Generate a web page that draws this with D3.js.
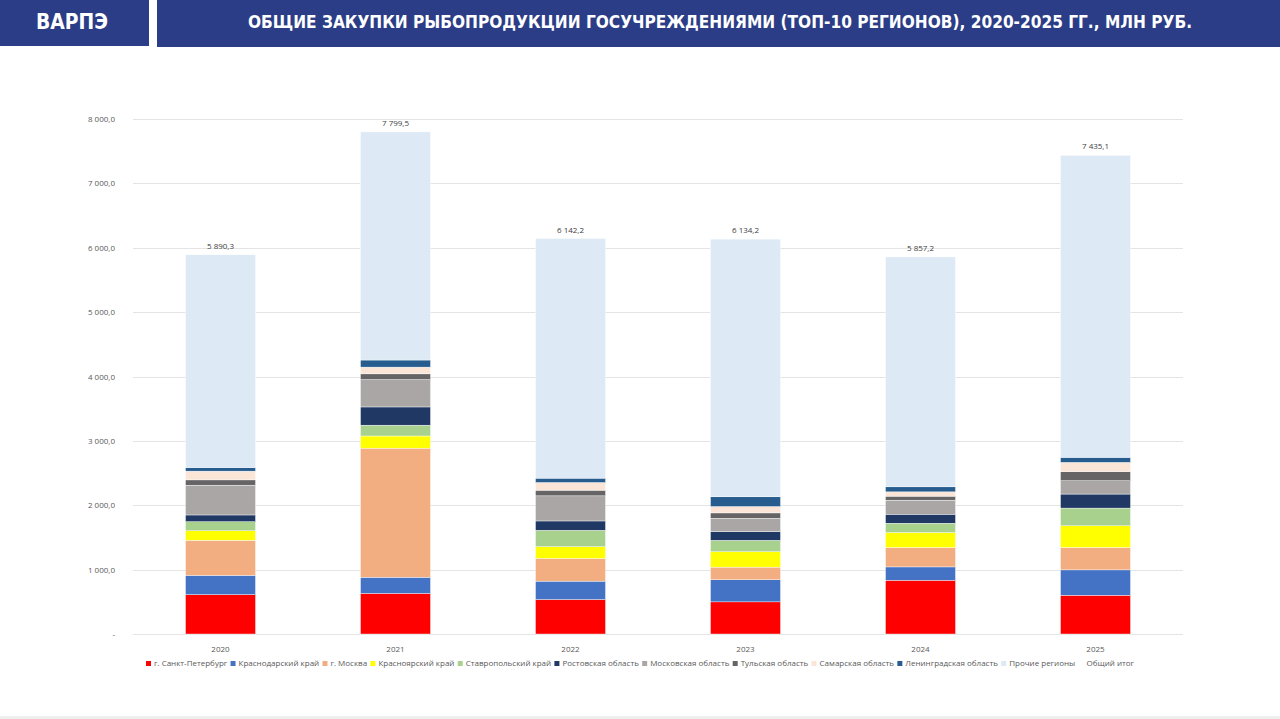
<!DOCTYPE html>
<html>
<head>
<meta charset="utf-8">
<script src="https://cdn.jsdelivr.net/npm/d3@7"></script>
<style>
  body { margin: 0; background: #fff; }
  svg { display: block; }
</style>
</head>
<body>
<div id="chart"></div>
<script>
// Данные
const years = ["2020", "2021", "2022", "2023", "2024", "2025"];
const regions = [
  "г. Санкт-Петербург", "Краснодарский край", "г. Москва", "Красноярский край",
  "Ставропольский край", "Ростовская область", "Московская область", "Тульская область",
  "Самарская область", "Ленинградская область", "Прочие регионы"
];
const colors = [
  "#ff0000", "#4472c4", "#f2ae80", "#ffff00", "#a9d18e", "#203864",
  "#aaa6a6", "#666464", "#fbe5d6", "#265d8e", "#dde9f5"
];
// значения по регионам, млн руб. (по годам)
const spb        = [611, 630, 535, 499, 835, 602];
const krasnodar  = [300, 252, 286, 343, 207, 394];
const moscow     = [545, 2005, 353, 197, 301, 348];
const krasnoyarsk= [147, 189, 182, 239, 233, 337];
const stavropol  = [142, 168, 255, 177, 145, 275];
const rostov     = [104, 283, 145, 135, 140, 218];
const mosObl     = [463, 425, 390, 208, 218, 207];
const tula       = [82, 89, 88, 83, 62, 140];
const samara     = [136, 105, 119, 99, 67, 145];
const leningrad  = [55, 110, 68, 151, 78, 78];
const totals     = [5890.3, 7799.5, 6142.2, 6134.2, 5857.2, 7435.1];
const yTicks = [0, 1000, 2000, 3000, 4000, 5000, 6000, 7000, 8000];

const series = [spb, krasnodar, moscow, krasnoyarsk, stavropol, rostov, mosObl, tula, samara, leningrad];
// прочие регионы = итог минус топ-10
const others = totals.map((t, i) => t - d3.sum(series, s => s[i]));
series.push(others);

const rows = years.map((y, i) => {
  const r = { year: y };
  regions.forEach((name, k) => r[name] = series[k][i]);
  return r;
});

const WIDTH = 1280, HEIGHT = 719;
const svg = d3.select("#chart").append("svg")
  .attr("width", WIDTH).attr("height", HEIGHT);

// Шапка
svg.append("rect").attr("x", 0).attr("y", 0).attr("width", 149).attr("height", 46).attr("fill", "#2b3d86");
svg.append("rect").attr("x", 157).attr("y", 0).attr("width", 1123).attr("height", 47).attr("fill", "#2b3d86");
svg.append("text")
  .attr("x", 72).attr("y", 29)
  .attr("text-anchor", "middle")
  .attr("fill", "#fff")
  .style("font-family", "'DejaVu Sans Condensed', 'Liberation Sans Narrow', sans-serif")
  .style("font-weight", "bold")
  .style("font-size", "21px")
  .attr("textLength", 72).attr("lengthAdjust", "spacingAndGlyphs")
  .text("ВАРПЭ");
svg.append("text")
  .attr("x", 720).attr("y", 28)
  .attr("text-anchor", "middle")
  .attr("fill", "#fff")
  .style("font-family", "'DejaVu Sans Condensed', 'Liberation Sans Narrow', sans-serif")
  .style("font-weight", "bold")
  .style("font-size", "18px")
  .attr("textLength", 944).attr("lengthAdjust", "spacingAndGlyphs")
  .text("ОБЩИЕ ЗАКУПКИ РЫБОПРОДУКЦИИ ГОСУЧРЕЖДЕНИЯМИ (ТОП-10 РЕГИОНОВ), 2020-2025 ГГ., МЛН РУБ.");

// нижняя линия
svg.append("rect").attr("x", 0).attr("y", 716).attr("width", WIDTH).attr("height", 3).attr("fill", "#efefef");

// Область графика
const plot = { left: 133, right: 1183, top: 119, bottom: 634 };

const x = d3.scaleBand()
  .domain(years)
  .range([plot.left, plot.right])
  .paddingInner(0.6)
  .paddingOuter(0.3);

const y = d3.scaleLinear()
  .domain([0, 8000])
  .range([plot.bottom, plot.top]);

const fmt = v => v === 0 ? "-" : d3.format(",.1f")(v).replace(/,/g, " ").replace(".", ",");

// Сетка
svg.append("g")
  .selectAll("line")
  .data(yTicks)
  .join("line")
  .attr("x1", plot.left).attr("x2", plot.right)
  .attr("y1", d => Math.round(y(d)) + 0.5).attr("y2", d => Math.round(y(d)) + 0.5)
  .attr("stroke", "#e4e4e4").attr("stroke-width", 1);

// Ось Y
const yAxis = svg.append("g")
  .attr("transform", `translate(${plot.left - 15},0)`)
  .call(d3.axisLeft(y).tickValues(yTicks).tickSize(0).tickFormat(fmt));
yAxis.select(".domain").remove();
yAxis.selectAll("text")
  .attr("fill", "#595959")
  .style("font-family", "'Open Sans', 'Liberation Sans', sans-serif")
  .style("font-size", "8px");

// Ось X
const xAxis = svg.append("g")
  .attr("transform", `translate(0,${plot.bottom + 9})`)
  .call(d3.axisBottom(x).tickSize(0));
xAxis.select(".domain").remove();
xAxis.selectAll("text")
  .attr("fill", "#595959")
  .style("font-family", "'Open Sans', 'Liberation Sans', sans-serif")
  .style("font-size", "8px");

// Столбцы
const stacked = d3.stack().keys(regions)(rows);
const color = d3.scaleOrdinal().domain(regions).range(colors);

svg.append("g")
  .selectAll("g")
  .data(stacked)
  .join("g")
  .attr("fill", d => color(d.key))
  .selectAll("rect")
  .data(d => d)
  .join("rect")
  .attr("x", d => x(d.data.year))
  .attr("y", d => y(d[1]))
  .attr("width", x.bandwidth())
  .attr("height", d => y(d[0]) - y(d[1]))
  .attr("stroke", "#fff")
  .attr("stroke-width", 0.4);

// Подписи итогов
svg.append("g")
  .selectAll("text")
  .data(years)
  .join("text")
  .attr("x", d => x(d) + x.bandwidth() / 2)
  .attr("y", (d, i) => y(totals[i]) - 6)
  .attr("text-anchor", "middle")
  .attr("fill", "#404040")
  .style("font-family", "'Open Sans', 'Liberation Sans', sans-serif")
  .style("font-size", "8px")
  .text((d, i) => fmt(totals[i]));

// Легенда
const legendItems = regions.map((r, i) => ({ name: r, color: colors[i] }))
  .concat([{ name: "Общий итог", color: "none" }]);
const legend = svg.append("g").attr("transform", "translate(0,666)");
const items = legend.selectAll("g").data(legendItems).join("g");
items.append("rect")
  .attr("y", -5).attr("width", 5).attr("height", 5)
  .attr("fill", d => d.color);
items.append("text")
  .attr("x", 8).attr("y", 0)
  .attr("fill", "#595959")
  .style("font-family", "'Open Sans', 'Liberation Sans', sans-serif")
  .style("font-size", "8px")
  .text(d => d.name);

const widths = items.nodes().map(n => 8 + d3.select(n).select("text").node().getComputedTextLength());
const legStart = 146, legEnd = 1134;
const gap = (legEnd - legStart - d3.sum(widths)) / (widths.length - 1);
let cx = legStart;
items.attr("transform", (d, i) => {
  const t = `translate(${cx},0)`;
  cx += widths[i] + gap;
  return t;
});
</script>
</body>
</html>
